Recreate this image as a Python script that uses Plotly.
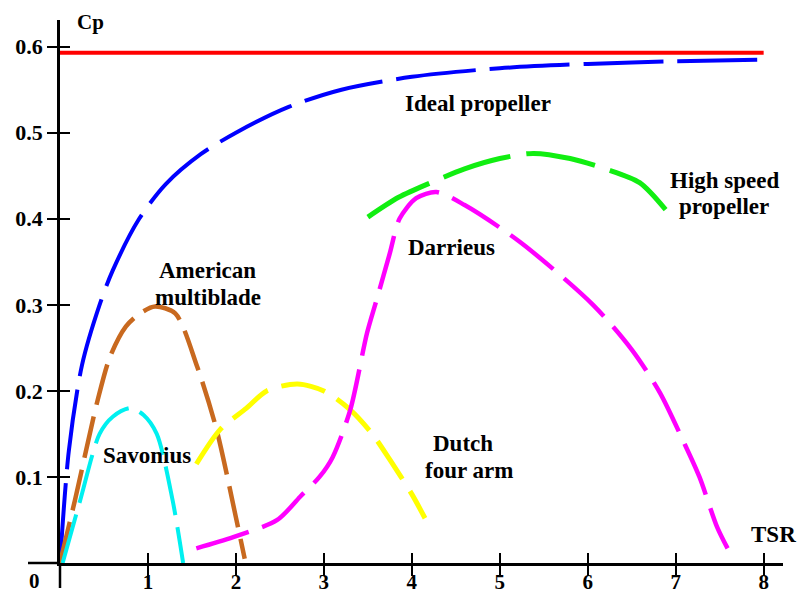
import plotly.graph_objects as go

# Cp vs tip speed ratio (TSR) for several rotor types
betz_tsr = [0, 8.0]
betz_cp = [0.593, 0.593]

ideal_tsr = [0, 0.1, 0.25, 0.45, 0.6, 0.9, 1.2, 1.6, 2.0, 2.6, 3.2, 4.0, 5.0, 6.0, 7.0, 8.05]
ideal_cp = [0, 0.13, 0.23, 0.30, 0.34, 0.40, 0.44, 0.475, 0.50, 0.53, 0.55, 0.565, 0.575, 0.58, 0.583, 0.585]

american_tsr = [0, 0.17, 0.43, 0.57, 0.75, 0.91, 1.08, 1.31, 1.56, 1.78, 2.0, 2.1]
american_cp = [0, 0.073, 0.19, 0.24, 0.275, 0.29, 0.298, 0.29, 0.228, 0.155, 0.053, 0.005]

savonius_tsr = [0.03, 0.23, 0.45, 0.6, 0.8, 0.95, 1.1, 1.28, 1.4]
savonius_cp = [0, 0.073, 0.15, 0.17, 0.18, 0.172, 0.15, 0.073, 0.0]

dutch_tsr = [1.55, 1.82, 2.12, 2.35, 2.7, 3.0, 3.3, 3.55, 3.75, 4.0, 4.15]
dutch_cp = [0.115, 0.155, 0.18, 0.2, 0.208, 0.2, 0.178, 0.15, 0.12, 0.08, 0.052]

darrieus_tsr = [1.55, 1.97, 2.47, 2.73, 2.95, 3.1, 3.3, 3.49, 3.6, 3.75, 3.86, 4.05, 4.28,
                4.6, 5.23, 6.06, 6.5, 6.82, 7.08, 7.27, 7.47, 7.59]
darrieus_cp = [0.017, 0.03, 0.05, 0.077, 0.1, 0.123, 0.178, 0.267, 0.306, 0.36, 0.4, 0.424, 0.431,
               0.416, 0.373, 0.3, 0.248, 0.198, 0.143, 0.1, 0.042, 0.017]

highspeed_tsr = [3.5, 3.85, 4.24, 4.6, 5.0, 5.38, 5.8, 6.2, 6.59, 6.93]
highspeed_cp = [0.402, 0.425, 0.443, 0.458, 0.47, 0.476, 0.47, 0.458, 0.442, 0.405]

x_ticks = [1, 2, 3, 4, 5, 6, 7, 8]
y_ticks = [0.1, 0.2, 0.3, 0.4, 0.5, 0.6]

FONT = "Liberation Serif"
# the page body has an 8px margin: shrink the figure so nothing overflows the window
OFF = 8
FIG_W = 806 - 2 * OFF
FIG_H = 603 - 2 * OFF
PLOT_W = 723
PLOT_H = 543
M_L = 60 - OFF
M_T = 20 - OFF
M_B = FIG_H - M_T - PLOT_H

fig = go.Figure()


def curve(x, y, color, width, dash):
    fig.add_trace(go.Scatter(
        x=x, y=y, mode="lines",
        line=dict(color=color, width=width, dash=dash, shape="spline", smoothing=0.8),
        hoverinfo="skip"))


curve(betz_tsr, betz_cp, "#FF0000", 4, "solid")
curve(ideal_tsr, ideal_cp, "#0000FF", 4, "80px,14px")
curve(american_tsr, american_cp, "#C8691F", 4.5, "42px,12px")
curve(savonius_tsr, savonius_cp, "#00F0F0", 4, "50px,12px")
curve(dutch_tsr, dutch_cp, "#FFFF00", 5, "45px,14px")
curve(darrieus_tsr, darrieus_cp, "#FF00FF", 4.5, "55px,14px")
curve(highspeed_tsr, highspeed_cp, "#11EE11", 5, "70px,16px")

label_font = dict(family=FONT, size=23, color="black", weight="bold")

# labels on the curves
labels = [
    (4.75, 0.534, "Ideal propeller"),
    (7.55, 0.445, "High speed"),
    (7.55, 0.414, "propeller"),
    (4.45, 0.367, "Darrieus"),
    (1.68, 0.34, "American"),
    (1.68, 0.309, "multiblade"),
    (0.99, 0.125, "Savonius"),
    (4.58, 0.139, "Dutch"),
    (4.65, 0.107, "four arm"),
]
for lx, ly, txt in labels:
    fig.add_annotation(x=lx, y=ly, text=txt, showarrow=False, font=label_font)

# axis names and origin label, kept inside the figure box
fig.add_annotation(xref="paper", yref="paper", x=(FIG_W - M_L) / PLOT_W, y=0.0516,
                   text="TSR", xanchor="right", yanchor="middle", showarrow=False,
                   font=label_font)
fig.add_annotation(xref="paper", yref="paper", x=0.0415, y=1 + M_T / PLOT_H,
                   text="Cp", xanchor="center", yanchor="top", showarrow=False,
                   font=dict(family=FONT, size=21, color="black", weight="bold"))
fig.add_annotation(xref="paper", yref="paper", x=-0.0346, y=-M_B / PLOT_H,
                   text="0", xanchor="center", yanchor="bottom", showarrow=False,
                   font=dict(family=FONT, size=21, color="black", weight="bold"))

# axis line extensions beyond the origin
fig.add_shape(type="line", xref="paper", yref="paper", x0=0, x1=0, y0=0, y1=-25 / PLOT_H,
              line=dict(color="black", width=2.5))
fig.add_shape(type="line", xref="paper", yref="paper", x0=-32 / PLOT_W, x1=0, y0=0, y1=0,
              line=dict(color="black", width=2.5))

axis_font = dict(family=FONT, size=22, color="black", weight="bold")
tick_style = dict(showgrid=False, zeroline=False, automargin=False,
                  ticklen=10, tickwidth=2, tickcolor="black")

fig.update_layout(
    width=FIG_W, height=FIG_H,
    margin=dict(l=M_L, r=FIG_W - M_L - PLOT_W, t=M_T, b=M_B, autoexpand=False),
    paper_bgcolor="white", plot_bgcolor="white",
    showlegend=False,
    xaxis=dict(range=[0, 8.22], showline=True, linecolor="black", linewidth=2.5,
               ticks="outside", tickvals=x_ticks, ticktext=[str(v) for v in x_ticks],
               tickfont=dict(family=FONT, size=21, color="black", weight="bold"),
               ticklabelstandoff=-12, **tick_style),
    xaxis2=dict(range=[0, 8.22], overlaying="x", anchor="y", side="bottom",
                ticks="inside", tickvals=x_ticks, showticklabels=False, **tick_style),
    yaxis=dict(range=[0, 0.631], showline=True, linecolor="black", linewidth=2.5,
               ticks="outside", tickvals=y_ticks, ticktext=["%.1f" % v for v in y_ticks],
               tickfont=axis_font, **tick_style),
    yaxis2=dict(range=[0, 0.631], overlaying="y", anchor="x", side="left",
                ticks="inside", tickvals=y_ticks, showticklabels=False, **tick_style),
)

# invisible trace so the overlay axes (inner tick halves) are drawn
fig.add_trace(go.Scatter(x=[0], y=[0], xaxis="x2", yaxis="y2", mode="markers",
                         marker=dict(opacity=0), hoverinfo="skip"))

fig.write_html("out.html")
